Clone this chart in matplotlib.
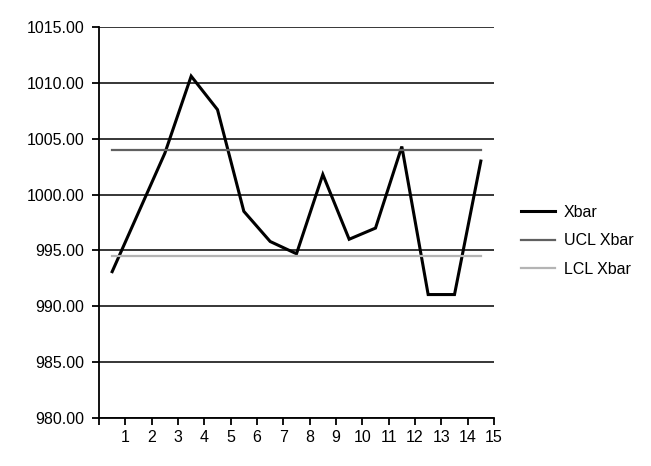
import matplotlib
matplotlib.use("Agg")
import matplotlib.pyplot as plt

plt.rcParams['font.family'] = ['Liberation Sans', 'DejaVu Sans']

# data
samples = list(range(1, 16))
xbar = [993.1, 998.4, 1003.7, 1010.6, 1007.6, 998.5, 995.8, 994.7,
        1001.8, 996.0, 997.0, 1004.3, 991.05, 991.05, 1003.0]
ucl = [1004.0] * 15
lcl = [994.5] * 15
yticks = [980, 985, 990, 995, 1000, 1005, 1010, 1015]

fig = plt.figure(figsize=(6.51, 4.66), dpi=100)
ax = fig.add_axes([99 / 651, 48 / 466, 395 / 651, 391 / 466])

# points sit in the middle of each category slot
xpos = [s - 0.5 for s in samples]
ax.plot(xpos, xbar, color='black', lw=2.2, label='Xbar', solid_joinstyle='miter')
ax.plot(xpos, ucl, color='#606060', lw=1.6, label='UCL Xbar')
ax.plot(xpos, lcl, color='#b4b4b4', lw=1.6, label='LCL Xbar')

ax.set_xlim(0, 15)
ax.set_ylim(980, 1015)
ax.set_xticks(range(0, 16))
ax.set_xticklabels([''] + [str(s) for s in samples])
ax.set_yticks(yticks)
ax.set_yticklabels([f'{v:.2f}' for v in yticks])
ax.yaxis.grid(True, color='black', lw=1.1)
ax.set_axisbelow(True)
for side in ('top', 'right'):
    ax.spines[side].set_visible(False)
for side in ('left', 'bottom'):
    ax.spines[side].set_linewidth(1.3)
ax.tick_params(axis='both', direction='out', length=5, width=1.3,
               labelsize=11.5, colors='black')
ax.tick_params(axis='y', pad=5.5)
ax.tick_params(axis='x', pad=4)

fig.legend(loc='center left', bbox_to_anchor=(507 / 651, 1 - 241 / 466),
           frameon=False, fontsize=11.5, handlelength=2.1, handletextpad=0.55,
           labelspacing=0.85)

fig.savefig('out.png', dpi=100)
